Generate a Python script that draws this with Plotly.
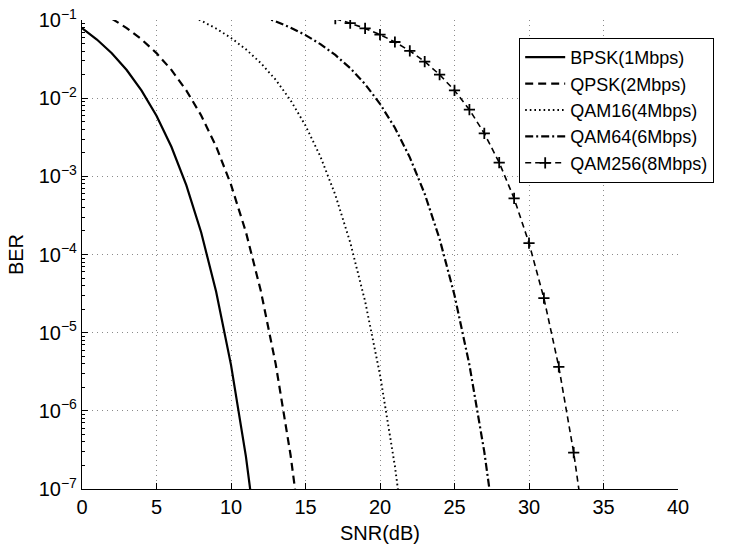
import plotly.graph_objects as go

# ---- data ----
snr_bpsk = [0, 1, 2, 3, 4, 5, 6, 7, 8, 9, 10, 11, 12]
ber_bpsk = [0.0786, 0.0563, 0.0375, 0.0229, 0.0125, 0.00595, 0.00239, 7.73e-4,
            1.91e-4, 3.36e-5, 3.87e-6, 2.61e-7, 9.0e-9]

snr_qpsk = [2, 3, 4, 5, 6, 7, 8, 9, 10, 11, 12, 13, 14, 15]
ber_qpsk = [0.104, 0.0789, 0.0565, 0.0377, 0.0230, 0.0126, 0.00600, 0.00242,
            7.83e-4, 1.94e-4, 3.43e-5, 3.97e-6, 2.70e-7, 9.4e-9]

snr_qam16 = [7, 8, 9, 10, 11, 12, 13, 14, 15, 16, 17, 18, 19, 20, 21, 22]
ber_qam16 = [0.119, 0.098, 0.0778, 0.0590, 0.0422, 0.0281, 0.0172, 0.00938,
             0.00446, 0.00179, 5.80e-4, 1.43e-4, 2.52e-5, 2.90e-6, 1.96e-7, 6.8e-9]

snr_qam64 = [12, 13, 14, 15, 16, 17, 18, 19, 20, 21, 22, 23, 24, 25, 26, 27, 28]
ber_qam64 = [0.112, 0.0961, 0.0799, 0.0641, 0.0491, 0.0357, 0.0242, 0.0151,
             0.00847, 0.00418, 0.00175, 5.98e-4, 1.58e-4, 3.02e-5, 3.88e-6,
             2.99e-7, 1.22e-8]

snr_qam256 = [17, 18, 19, 20, 21, 22, 23, 24, 25, 26, 27, 28, 29, 30, 31, 32, 33, 34]
ber_qam256 = [0.1037, 0.0911, 0.0781, 0.0651, 0.0523, 0.0403, 0.0294, 0.0200,
              0.01256, 0.00713, 0.00355, 0.00150, 5.22e-4, 1.40e-4, 2.76e-5,
              3.66e-6, 2.92e-7, 1.3e-8]

names = ["BPSK(1Mbps)", "QPSK(2Mbps)", "QAM16(4Mbps)", "QAM64(6Mbps)", "QAM256(8Mbps)"]

x_ticks = [0, 5, 10, 15, 20, 25, 30, 35, 40]
y_exps = [-7, -6, -5, -4, -3, -2, -1]
y_tickvals = [10.0 ** e for e in y_exps]
y_ticktext = ["10<sup>\u2212%d</sup>" % (-e) for e in y_exps]

FONT = "Liberation Sans, Arial, Helvetica, sans-serif"

fig = go.Figure()
fig.add_trace(go.Scatter(x=snr_bpsk, y=ber_bpsk, name=names[0], mode="lines",
                         line=dict(color="black", width=2.2)))
fig.add_trace(go.Scatter(x=snr_qpsk, y=ber_qpsk, name=names[1], mode="lines",
                         line=dict(color="black", width=2.2, dash="8px,5px")))
fig.add_trace(go.Scatter(x=snr_qam16, y=ber_qam16, name=names[2], mode="lines",
                         line=dict(color="black", width=1.9, dash="1.6px,3px")))
fig.add_trace(go.Scatter(x=snr_qam64, y=ber_qam64, name=names[3], mode="lines",
                         line=dict(color="black", width=2.2, dash="8px,3px,2px,3px")))
fig.add_trace(go.Scatter(x=snr_qam256, y=ber_qam256, name=names[4], mode="lines+markers",
                         line=dict(color="black", width=1.6, dash="6px,4px"),
                         marker=dict(symbol="cross-thin", size=8,
                                     line=dict(color="black", width=1.8))))

fig.update_layout(
    width=739, height=545,
    margin=dict(l=82, r=61, t=20, b=56, autoexpand=False),
    paper_bgcolor="white", plot_bgcolor="white",
    font=dict(family=FONT, size=20, color="black"),
    showlegend=True,
    legend=dict(x=0.7332, y=0.962, xanchor="left", yanchor="top",
                bgcolor="white", bordercolor="black", borderwidth=1.2,
                font=dict(family=FONT, size=18, color="black"),
                tracegroupgap=0, itemwidth=40),
)
fig.update_xaxes(
    range=[0, 40], tickvals=x_ticks, ticks="inside", ticklen=6, tickcolor="black",
    showline=True, linecolor="black", linewidth=1.2, mirror=False, automargin=False,
    showgrid=True, gridcolor="#8a8a8a", griddash="1px,4px", gridwidth=1,
    zeroline=False,
    title=dict(text="SNR(dB)", standoff=8, font=dict(size=20)),
    tickfont=dict(size=20),
)
fig.update_yaxes(
    type="log", range=[-7, -1], tickvals=y_tickvals, ticktext=y_ticktext,
    ticks="inside", ticklen=6, tickcolor="black", automargin=False,
    ticklabeloverflow="allow",
    showline=True, linecolor="black", linewidth=1.2, mirror=False,
    showgrid=True, gridcolor="#8a8a8a", griddash="1px,4px", gridwidth=1,
    zeroline=False,
    minor=dict(ticks="inside", ticklen=3, tickcolor="black", dtick="D1", showgrid=False),
    title=dict(text="BER", standoff=9, font=dict(size=20)),
    tickfont=dict(size=20),
)

# remove the default 8px page margin so the figure fills the 739x545 window
fig.write_html("out.html", config={"displayModeBar": False},
               post_script="document.body.style.margin='0';document.body.style.overflow='hidden';")
